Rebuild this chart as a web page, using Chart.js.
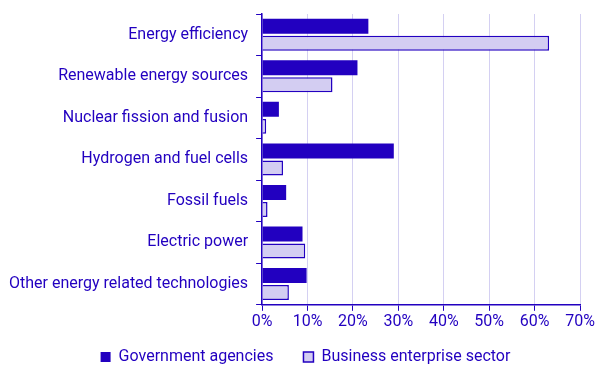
<!DOCTYPE html>
<html>
<head>
<meta charset="utf-8">
<script src="https://cdn.jsdelivr.net/npm/chart.js@4"></script>
<style>
html,body{margin:0;padding:0;background:#fff;}
#wrap{width:605px;height:378px;position:relative;}
</style>
</head>
<body>
<div id="wrap"><canvas id="c" width="605" height="378"></canvas></div>
<script>
const categories = [
  "Energy efficiency",
  "Renewable energy sources",
  "Nuclear fission and fusion",
  "Hydrogen and fuel cells",
  "Fossil fuels",
  "Electric power",
  "Other energy related technologies"
];
const governmentAgencies = [23.4, 21.0, 3.7, 29.0, 5.3, 8.9, 9.8];
const businessEnterprise = [63.2, 15.5, 0.9, 4.6, 1.2, 9.5, 5.9];
const seriesNames = ["Government agencies", "Business enterprise sector"];
const xTicks = [0, 10, 20, 30, 40, 50, 60, 70];

const DARK = "#2200c0";
const LIGHT = "#d3cdf2";
const GRID = "#d4d0f2";
const TEXT = "#2200c0";

Chart.defaults.font.family = "Roboto";
Chart.defaults.font.size = 16;
Chart.defaults.color = TEXT;

// Tighten the legend vertically while keeping wide horizontal spacing
const LEGEND_FIT_CUT = 19;
const LEGEND_DRAW_SHIFT = 15;
const LEGEND_X_SHIFT = 15;
const legendTighten = {
  id: "legendTighten",
  afterInit(chart) {
    const lg = chart.legend;
    if (!lg) return;
    const origFit = lg.fit.bind(lg);
    lg.fit = function () { origFit(); this.height -= LEGEND_FIT_CUT; };
    const origDraw = lg.draw.bind(lg);
    lg.draw = function () {
      const t = this.top, l = this.left, r = this.right;
      this.top -= LEGEND_DRAW_SHIFT;
      this.left += LEGEND_X_SHIFT; this.right += LEGEND_X_SHIFT;
      origDraw();
      this.top = t; this.left = l; this.right = r;
    };
  }
};

new Chart(document.getElementById("c"), {
  type: "bar",
  data: {
    labels: categories,
    datasets: [
      {
        label: seriesNames[0],
        data: governmentAgencies,
        backgroundColor: DARK,
        borderColor: DARK,
        borderWidth: 0
      },
      {
        label: seriesNames[1],
        data: businessEnterprise,
        backgroundColor: LIGHT,
        borderColor: DARK,
        borderWidth: 1.5
      }
    ]
  },
  plugins: [legendTighten],
  options: {
    indexAxis: "y",
    responsive: false,
    animation: false,
    categoryPercentage: 0.82,
    barPercentage: 0.88,
    layout: { padding: { left: 1, right: 25, top: 14, bottom: 7 } },
    plugins: {
      legend: {
        position: "bottom",
        labels: {
          boxWidth: 10,
          boxHeight: 10,
          padding: 30,
          color: TEXT,
          font: { size: 16 }
        }
      },
      tooltip: { enabled: false }
    },
    scales: {
      x: {
        min: 0,
        max: 70,
        afterBuildTicks: (axis) => { axis.ticks = xTicks.map(v => ({ value: v })); },
        ticks: {
          callback: (v) => v + "%",
          color: TEXT,
          padding: 2,
          font: { size: 16 }
        },
        grid: {
          color: GRID,
          lineWidth: 1,
          tickColor: DARK,
          tickLength: 6,
          drawTicks: true
        },
        border: { color: DARK, width: 1.5 }
      },
      y: {
        afterFit: (s) => { s.paddingTop = 0; s.paddingBottom = 0; },
        ticks: { color: TEXT, padding: 8, font: { size: 16 } },
        grid: {
          offset: true,
          drawOnChartArea: false,
          tickColor: DARK,
          tickLength: 6
        },
        border: { color: DARK, width: 1.5 }
      }
    }
  }
});
</script>
</body>
</html>
